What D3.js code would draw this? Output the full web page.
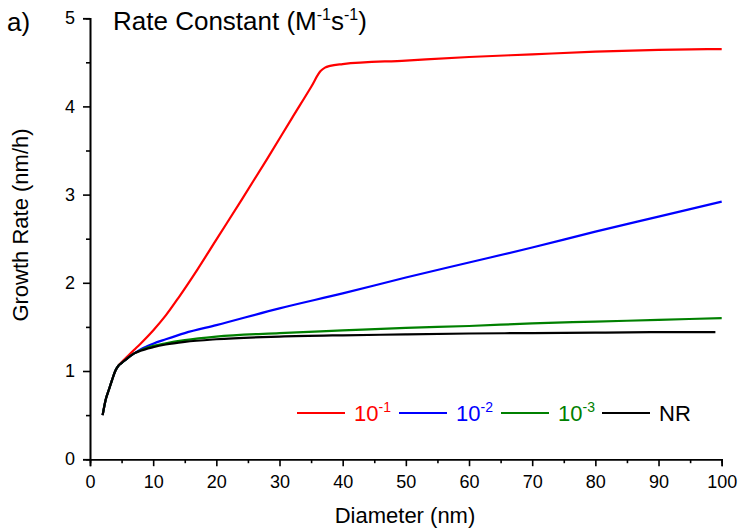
<!DOCTYPE html>
<html><head><meta charset="utf-8">
<script src="https://cdn.jsdelivr.net/npm/d3@7"></script>
<style>body{margin:0;background:#fff}svg{display:block}text{font-family:Arial,"Liberation Sans",sans-serif}</style>
</head><body>
<svg id="chart" width="741" height="529"></svg>
<script>
const diamRed   = [2,2.5,3,3.5,4,4.5,5,6,7,8,10,12,14,17,20,24,28,32,35,36.5,37.2,38,40,50,60,70,80,90,100];
const rateRed   = [0.5,0.68,0.79,0.9,1.0,1.06,1.1,1.17,1.24,1.31,1.46,1.63,1.83,2.15,2.49,2.94,3.40,3.87,4.22,4.40,4.44,4.46,4.48,4.52,4.56,4.59,4.62,4.64,4.65];
const diamBlue  = [2,2.5,3,3.5,4,4.5,5,6,7,8,10,12,15,20,30,40,50,60,70,80,90,100];
const rateBlue  = [0.5,0.68,0.79,0.9,1.0,1.06,1.09,1.15,1.2,1.245,1.31,1.36,1.43,1.52,1.71,1.88,2.06,2.23,2.40,2.58,2.75,2.92];
const diamGreen = [2,2.5,3,3.5,4,4.5,5,6,7,8,10,12,15,20,30,40,50,60,70,80,90,100];
const rateGreen = [0.5,0.68,0.79,0.9,1.0,1.06,1.09,1.15,1.2,1.235,1.285,1.315,1.35,1.39,1.43,1.46,1.49,1.51,1.54,1.56,1.58,1.60];
const diamNR    = [2,2.5,3,3.5,4,4.5,5,6,7,8,10,12,15,20,30,40,50,60,70,80,90,99];
const rateNR    = [0.5,0.68,0.79,0.9,1.0,1.06,1.09,1.15,1.2,1.23,1.27,1.30,1.33,1.36,1.39,1.405,1.415,1.425,1.43,1.435,1.44,1.44];
const seriesColors = ["#ff0000","#0000ff","#008000","#000000"];
const legendBase = ["10","10","10","NR"];
const legendSup  = ["-1","-2","-3",""];
const xTicks = [0,10,20,30,40,50,60,70,80,90,100];
const yTicks = [0,1,2,3,4,5];

const svg = d3.select("#chart");
const x = d3.scaleLinear().domain([0,100]).range([90,721.7]);
const y = d3.scaleLinear().domain([0,5]).range([459.2,18.2]);

const xMinor = d3.axisBottom(x).tickValues(d3.range(5,100,10)).tickSize(4).tickFormat("");
const xMajor = d3.axisBottom(x).tickValues(xTicks).tickSize(7).tickPadding(9).tickFormat(d3.format("d"));
const yMinor = d3.axisLeft(y).tickValues(d3.range(0.5,5,1)).tickSize(4).tickFormat("");
const yMajor = d3.axisLeft(y).tickValues(yTicks).tickSize(7).tickPadding(8).tickFormat(d3.format("d"));
function style(g){
  g.selectAll("path").attr("stroke","#000").attr("stroke-width",1.6);
  g.selectAll("line").attr("stroke","#000").attr("stroke-width",1.6);
  g.selectAll("text").attr("font-size",18).attr("fill","#000").attr("font-family","Arial, 'Liberation Sans', sans-serif");
}
svg.append("g").attr("transform",`translate(0,${y(0)})`).call(xMinor).call(style);
svg.append("g").attr("transform",`translate(0,${y(0)})`).call(xMajor).call(style);
svg.append("g").attr("transform",`translate(${x(0)},0)`).call(yMinor).call(style);
svg.append("g").attr("transform",`translate(${x(0)},0)`).call(yMajor).call(style);

const data = [[diamRed,rateRed],[diamBlue,rateBlue],[diamGreen,rateGreen],[diamNR,rateNR]];
const line = d3.line().x(d=>x(d[0])).y(d=>y(d[1])).curve(d3.curveMonotoneX);
data.forEach((s,i)=>{
  const pts = s[0].map((d,j)=>[d,s[1][j]]);
  svg.append("path").datum(pts).attr("d",line).attr("fill","none")
    .attr("stroke",seriesColors[i]).attr("stroke-width",2.2).attr("stroke-linejoin","round");
});

svg.append("text").attr("x",7).attr("y",31).attr("font-size",26).text("a)");
const t = svg.append("text").attr("x",113).attr("y",30).attr("font-size",26);
t.append("tspan").text("Rate Constant (M");
t.append("tspan").attr("dy",-10).attr("font-size",16).text("-1");
t.append("tspan").attr("dy",10).text("s");
t.append("tspan").attr("dy",-10).attr("font-size",16).text("-1");
t.append("tspan").attr("dy",10).text(")");
svg.append("text").attr("x",405).attr("y",523).attr("text-anchor","middle").attr("font-size",22).text("Diameter (nm)");
svg.append("text").attr("transform","translate(28,225) rotate(-90)").attr("text-anchor","middle").attr("font-size",22).text("Growth Rate (nm/h)");

const legX = [297,399,501,602];
legX.forEach((lx,i)=>{
  svg.append("line").attr("x1",lx).attr("x2",lx+48).attr("y1",413).attr("y2",413)
    .attr("stroke",seriesColors[i]).attr("stroke-width",2.2);
  const tt = svg.append("text").attr("x",lx+57).attr("y",421).attr("font-size",22).attr("fill",seriesColors[i]);
  tt.append("tspan").text(legendBase[i]);
  if(legendSup[i]) tt.append("tspan").attr("dy",-9).attr("font-size",14).text(legendSup[i]);
});
</script>
</body></html>
